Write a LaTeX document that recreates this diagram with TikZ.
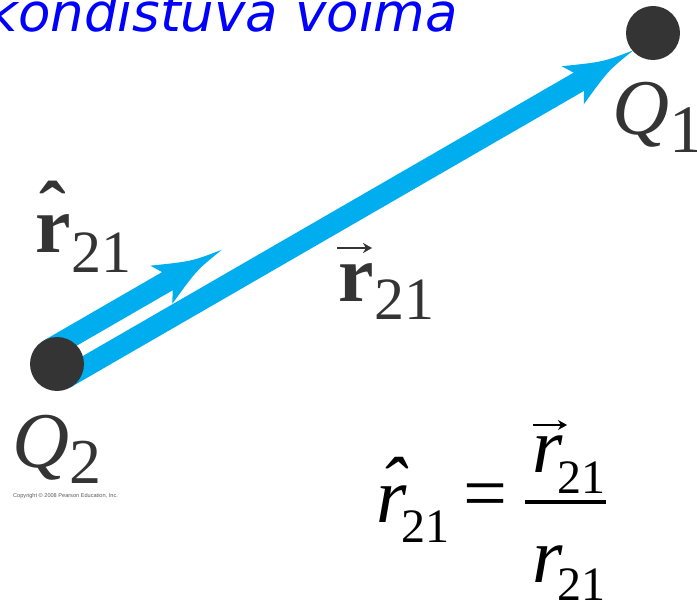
\documentclass[tikz,border=0pt]{standalone}
\usepackage{fontspec}
\setmainfont{Liberation Serif}
\newfontfamily\sansf{Liberation Sans}
\newfontfamily\topf{DejaVu Sans}
\usetikzlibrary{arrows.meta,backgrounds}
\definecolor{qdark}{RGB}{52,52,52}
\definecolor{arrowblue}{RGB}{0,174,239}
\newsavebox{\hatbox}
\newcommand\hatover[3]{\sbox\hatbox{#3}\rlap{\makebox[\wd\hatbox]{\kern#2\raisebox{#1}{\char"02C6}}}\usebox\hatbox}
\begin{document}
\begin{tikzpicture}[x=1pt,y=-1pt,
  dot/.style={circle, fill=qdark, minimum size=54pt, inner sep=0pt},
  lab/.style={inner sep=0pt, anchor=base west, text=qdark},
  eq/.style={inner sep=0pt, anchor=base west, text=black},
  stripe/.style={line width=21pt, draw=arrowblue, line cap=butt},
  head/.style={fill=arrowblue},
  vecarrow/.style={line width=1.6pt, -{Stealth[length=9pt,width=10pt]}},
]
\useasboundingbox (0,0) rectangle (697,604);

% charges
\node[dot] (Q2) at (57,364) {};
\node[dot] (Q1) at (653,33) {};

% arrows (behind the charges)
\begin{scope}[on background layer]
\begin{scope}[shift={(Q2.center)}, rotate=30]
  % unit vector r-hat
  \coordinate (uS) at (0,-16.5);
  \coordinate (uE) at (138,-16.5);
  \draw[stripe] (uS) -- (uE);
  \fill[head] (200,-16.5) .. controls (168,-21.5) .. (130,-38.5) -- (137,-27)
     -- (137,-6) -- (130,5.5) .. controls (168,-11.5) .. (200,-16.5) -- cycle;
  % vector r_21 from Q2 to Q1
  \coordinate (lS) at (0,16.5);
  \coordinate (lE) at (594,16.5);
  \draw[stripe] (lS) -- (lE);
  \fill[head] (656,16.5) .. controls (624,11.5) .. (586,-5.5) -- (593,6)
     -- (593,27) -- (586,38.5) .. controls (624,21.5) .. (656,16.5) -- cycle;
\end{scope}
\end{scope}

% title (cut at the top)
\node[inner sep=0pt, anchor=base east, text=blue,
      font=\topf\itshape\fontsize{53}{53}\selectfont] (title) at (458,32) {kondistuva voima};

% labels
\node[lab, font=\fontsize{80}{80}\selectfont] (rhat) at (35,253)
  {{\bfseries\hatover{15pt}{0pt}{r}}\kern1pt{\fontsize{60}{60}\selectfont\raisebox{-20pt}{21}}};
\node[lab, font=\fontsize{80}{80}\selectfont] (rvec) at (338,302)
  {\textbf{r}\kern1pt{\fontsize{60}{60}\selectfont\raisebox{-18pt}{21}}};
\draw[vecarrow, qdark] ([shift={(-1,-54)}]rvec.base west) -- ++(35,0);
\node[lab, font=\fontsize{79}{79}\selectfont] (q1lab) at (612,135)
  {\textit{Q}{\fontsize{68}{68}\selectfont\raisebox{-18pt}{1}}};
\node[lab, font=\fontsize{79}{79}\selectfont] (q2lab) at (12,467)
  {\textit{Q}{\fontsize{64}{64}\selectfont\raisebox{-17pt}{2}}};
\node[inner sep=0pt, anchor=base west, text=black!65,
      font=\sansf\fontsize{5.6}{6}\selectfont] (copy) at (13,497)
  {Copyright \textcopyright{} 2008 Pearson Education, Inc.};

% equation
\node[eq, font=\fontsize{78}{78}\selectfont\itshape] (lhs) at (376,522)
  {\hatover{11pt}{3pt}{r}\kern-5pt{\upshape\fontsize{48}{48}\selectfont\raisebox{-20pt}{21}}};
\node[inner sep=0pt, font=\fontsize{78}{78}\selectfont] (eqs) at (485,502) {=};
\coordinate (barL) at (525,502);
\coordinate (barR) at (606,502);
\draw[line width=4pt] (barL) -- (barR);
\node[eq, font=\fontsize{78}{78}\selectfont\itshape] (num) at (532,472)
  {r\kern-5pt{\upshape\fontsize{48}{48}\selectfont\raisebox{-21pt}{21}}};
\draw[vecarrow, line width=1.4pt] ([shift={(1,-47)}]num.base west) -- ++(34,0);
\node[eq, font=\fontsize{78}{78}\selectfont\itshape] (den) at (532,582)
  {r\kern-5pt{\upshape\fontsize{48}{48}\selectfont\raisebox{-18pt}{21}}};
\end{tikzpicture}
\end{document}
